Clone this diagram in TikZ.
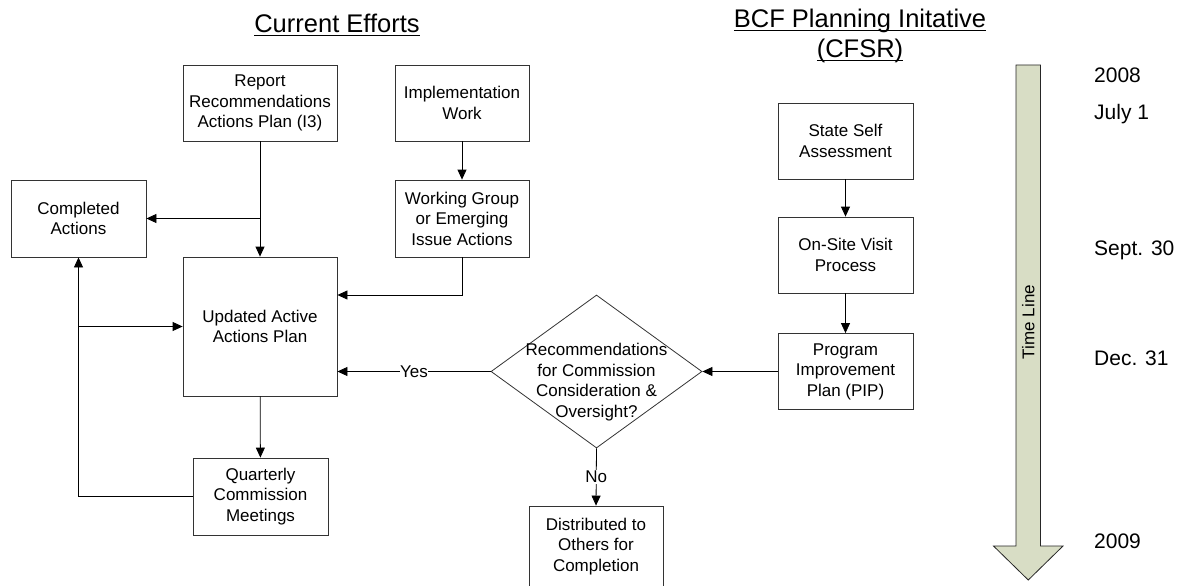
\documentclass[tikz,border=0pt]{standalone}
\usepackage{fontspec}
\setmainfont{Liberation Sans}
\usetikzlibrary{shapes.geometric,arrows.meta}
\newcommand\myul[1]{\setbox0\hbox{#1}\rlap{\rule[-3pt]{\wd0}{1.1pt}}\box0}
\begin{document}
\begin{tikzpicture}[x=1pt,y=-1pt,
  txt/.style={font=\fontsize{17}{20.5}\selectfont},
  box/.style={txt, draw=black!80, line width=0.8pt, inner sep=0pt, align=center,
    minimum width=#1},
  box/.default=135pt,
  conn/.style={line width=0.8pt, -{Triangle[length=10pt,width=9pt]}},
  title/.style={font=\fontsize{25.5}{29.5}\selectfont, anchor=base, inner sep=0pt},
  date/.style={font=\fontsize{21}{25}\selectfont, anchor=base west, inner sep=0pt},
  lbl/.style={txt, fill=white, inner sep=1pt}]
\useasboundingbox (0,0) rectangle (1178,586);
\clip (0,0) rectangle (1178,586);

% titles
\node[title] (t1) at (337,33) {\myul{Current Efforts}};
\node[title] (t2) at (860,28) {\myul{BCF Planning Initative}};
\node[title] (t3) at (860,58) {\myul{(CFSR)}};

% left column boxes
\node[box=154pt, minimum height=76pt] (report) at (260,103) {Report\\Recommendations\\Actions Plan (I3)};
\node[box=134pt, minimum height=76pt] (impl) at (462,103) {Implementation\\Work};
\node[box=135pt, minimum height=77pt] (completed) at (78.5,218.5) {Completed\\Actions};
\node[box=134pt, minimum height=77pt] (work) at (462,218.5) {Working Group\\or Emerging\\Issue Actions};
\node[box=154pt, minimum height=139pt] (updated) at (260,326.5) {Updated Active\\Actions Plan};
\node[box=135pt, minimum height=77pt] (quarterly) at (260.5,496.5) {Quarterly\\Commission\\Meetings};

% decision
\node[diamond, draw=black!80, line width=0.8pt, inner sep=0pt,
      minimum width=211pt, minimum height=153pt,
      label={[txt, align=center, yshift=-10.5pt, inner sep=0pt]center:Recommendations\\for Commission\\Consideration \&\\Oversight?}]
      (dec) at (596.5,371.5) {};
\node[box=134pt, minimum height=81pt] (dist) at (596,546.5) {Distributed to\\Others for\\Completion};

% right column
\node[box=135pt, minimum height=76pt] (state) at (845.5,141) {State Self\\Assessment};
\node[box=135pt, minimum height=76pt] (onsite) at (845.5,255) {On-Site Visit\\Process};
\node[box=135pt, minimum height=76pt] (prog) at (845.5,371.5) {Program\\Improvement\\Plan (PIP)};

% connectors
\draw[conn] (report.south) -- (updated.north);
\draw[conn] (report.south |- completed.east) -- (completed.east);
\draw[conn] (impl) -- (work);
\draw[conn] (work.south) |- ([yshift=31.5pt]updated.east);
\draw[conn] (dec.west) -- node[lbl, inner sep=0.5pt] (yes) {Yes} (dec.west -| updated.east);
\draw[conn] (dec.south) -- node[lbl] (no) {No} (dist.north);
\draw[conn] (prog.west) -- (dec.east);
\draw[conn] (updated) -- (quarterly);
\draw[conn] (quarterly.west) -| (completed.south);
\draw[conn] (completed.south |- updated.west) -- (updated.west);
\draw[conn] (state) -- (onsite);
\draw[conn] (onsite) -- (prog);

% timeline
\draw[draw=black!85, line width=0.8pt, fill={rgb,255:red,216;green,221;blue,197}]
  (1016,65) -- (1040.5,65) -- (1040.5,546) -- (1063,546) -- (1028.25,580)
  -- (993.5,546) -- (1016,546) -- cycle;
\node[txt, rotate=90] (tl) at (1028.25,322) {Time Line};

% dates
\node[date] (d1) at (1094,82) {2008};
\node[date] (d2) at (1094,119) {July 1};
\node[date] (d3) at (1094,255) {Sept. 30};
\node[date] (d4) at (1094,365) {Dec. 31};
\node[date] (d5) at (1094,548) {2009};
\end{tikzpicture}
\end{document}
